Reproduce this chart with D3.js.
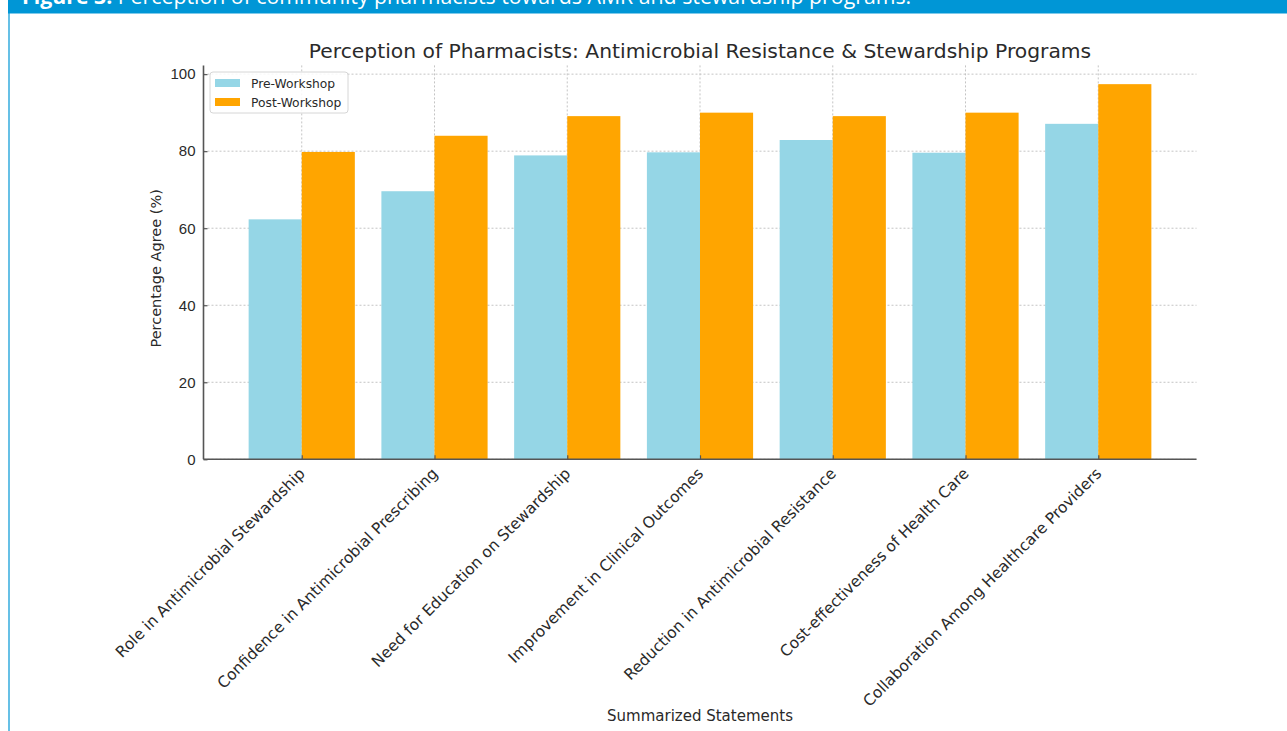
<!DOCTYPE html>
<html>
<head>
<meta charset="utf-8">
<script src="https://cdn.jsdelivr.net/npm/d3@7"></script>
<style>
  body { margin: 0; background: #fff; }
  svg { display: block; font-family: "DejaVu Sans", sans-serif; }
</style>
</head>
<body>
<div id="chart"></div>
<script>
const categories = [
  "Role in Antimicrobial Stewardship",
  "Confidence in Antimicrobial Prescribing",
  "Need for Education on Stewardship",
  "Improvement in Clinical Outcomes",
  "Reduction in Antimicrobial Resistance",
  "Cost-effectiveness of Health Care",
  "Collaboration Among Healthcare Providers"
];
const preWorkshop = [62.3, 69.6, 78.9, 79.7, 82.9, 79.6, 87.1];
const postWorkshop = [79.8, 84.0, 89.1, 90.0, 89.1, 90.0, 97.4];
const yTicks = [0, 20, 40, 60, 80, 100];
const seriesNames = ["Pre-Workshop", "Post-Workshop"];
const colors = ["#95d6e6", "#ffa500"];

const width = 1287;
const height = 731;
const plot = { left: 203.5, right: 1196.5, top: 65.4, bottom: 459.3 };

const svg = d3.select("#chart")
  .append("svg")
  .attr("width", width)
  .attr("height", height);

/* Caption header (cut off at top, as in the source page) */
svg.append("rect")
  .attr("x", 8).attr("y", 0)
  .attr("width", width - 8).attr("height", 13.5)
  .attr("fill", "#0096d6");
svg.append("line")
  .attr("x1", 9).attr("x2", 9)
  .attr("y1", 13).attr("y2", height)
  .attr("stroke", "#0096d6").attr("stroke-width", 1.2);
const cap = svg.append("text")
  .attr("x", 22).attr("y", 4)
  .attr("fill", "#fff")
  .style("font-family", "'Open Sans', sans-serif")
  .style("font-size", "21.3px");
cap.append("tspan").attr("font-weight", "bold").text("Figure 3. ");
cap.append("tspan").text("Perception of community pharmacists towards AMR and stewardship programs.");

/* Scales */
const x = d3.scaleLinear()
  .domain([-0.74, categories.length - 1 + 0.74])
  .range([plot.left, plot.right]);
const y = d3.scaleLinear()
  .domain([0, 97.4 * 1.05])
  .range([plot.bottom, plot.top]);
const barW = x(0.4) - x(0);

/* Grid */
const grid = svg.append("g")
  .attr("stroke", "#c4c4c4")
  .attr("stroke-width", 1)
  .attr("stroke-dasharray", "2,2");
grid.selectAll(".hg")
  .data(yTicks)
  .join("line")
  .attr("x1", plot.left).attr("x2", plot.right)
  .attr("y1", (d) => y(d)).attr("y2", (d) => y(d));
grid.selectAll(".vg")
  .data(categories)
  .join("line")
  .attr("x1", (d, i) => x(i)).attr("x2", (d, i) => x(i))
  .attr("y1", plot.top).attr("y2", plot.bottom);

/* Bars */
const series = [preWorkshop, postWorkshop];
series.forEach((vals, s) => {
  svg.append("g")
    .selectAll("rect")
    .data(vals)
    .join("rect")
    .attr("x", (d, i) => x(i) - barW + s * barW)
    .attr("y", (d) => y(d))
    .attr("width", barW)
    .attr("height", (d) => y(0) - y(d))
    .attr("fill", colors[s]);
});

/* Axes */
const yAxis = svg.append("g")
  .attr("transform", `translate(${plot.left},0)`)
  .call(d3.axisLeft(y).tickValues(yTicks).tickSize(-4).tickPadding(8));
const xAxis = svg.append("g")
  .attr("transform", `translate(0,${plot.bottom})`)
  .call(d3.axisBottom(x)
    .tickValues(d3.range(categories.length))
    .tickSize(-4)
    .tickFormat(() => ""));
xAxis.select(".domain").attr("d", `M${plot.left},0H${plot.right}`);
yAxis.select(".domain").attr("d", `M0,${plot.top}V${plot.bottom}`);
[xAxis, yAxis].forEach((g) => {
  g.select(".domain").attr("stroke", "#555").attr("stroke-width", 1.6);
  g.selectAll(".tick line").attr("stroke", "#555").attr("stroke-width", 1.2);
});
yAxis.selectAll(".tick text")
  .attr("fill", "#2a2a2a")
  .style("font-size", "15px");

/* Rotated category labels */
svg.append("g")
  .selectAll("text")
  .data(categories)
  .join("text")
  .attr("transform", (d, i) => `translate(${x(i) - 4},${plot.bottom + 7}) rotate(-45)`)
  .attr("text-anchor", "end")
  .attr("dy", "0.75em")
  .attr("fill", "#2a2a2a")
  .style("font-size", "15.5px")
  .text((d) => d);

/* Titles */
svg.append("text")
  .attr("x", (plot.left + plot.right) / 2)
  .attr("y", 58)
  .attr("text-anchor", "middle")
  .attr("fill", "#2a2a2a")
  .style("font-size", "20.3px")
  .text("Perception of Pharmacists: Antimicrobial Resistance & Stewardship Programs");
svg.append("text")
  .attr("transform", `translate(161,${(plot.top + plot.bottom) / 2 + 6}) rotate(-90)`)
  .attr("text-anchor", "middle")
  .attr("fill", "#2a2a2a")
  .style("font-size", "14.5px")
  .text("Percentage Agree (%)");
svg.append("text")
  .attr("x", (plot.left + plot.right) / 2)
  .attr("y", 721)
  .attr("text-anchor", "middle")
  .attr("fill", "#2a2a2a")
  .style("font-size", "15px")
  .text("Summarized Statements");

/* Legend */
const legend = svg.append("g").attr("transform", "translate(210,72)");
legend.append("rect")
  .attr("width", 138).attr("height", 41)
  .attr("rx", 3)
  .attr("fill", "#fff").attr("fill-opacity", 0.85)
  .attr("stroke", "#d6d6d6");
seriesNames.forEach((name, s) => {
  legend.append("rect")
    .attr("x", 5).attr("y", 7 + s * 19)
    .attr("width", 25).attr("height", 8)
    .attr("fill", colors[s]);
  legend.append("text")
    .attr("x", 41).attr("y", 15.5 + s * 19)
    .attr("fill", "#2a2a2a")
    .style("font-size", "12.3px")
    .text(name);
});
</script>
</body>
</html>
